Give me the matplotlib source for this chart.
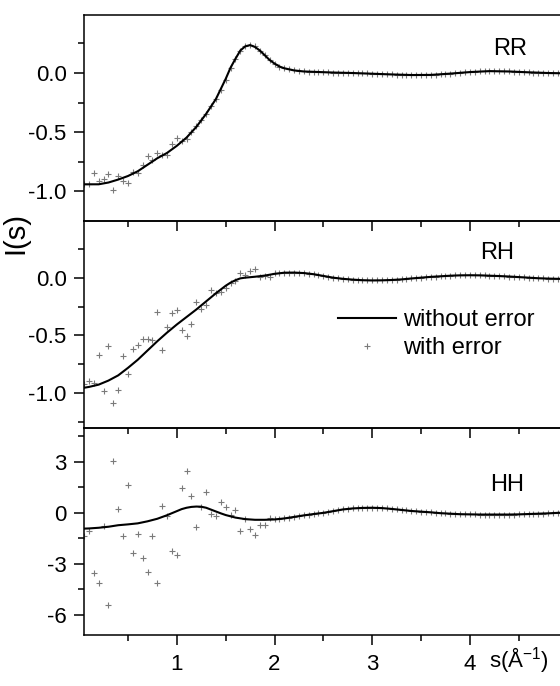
import matplotlib
matplotlib.use("Agg")
import matplotlib.pyplot as plt
import numpy as np

plt.rcParams['font.family'] = ['Liberation Sans', 'DejaVu Sans']
plt.rcParams['axes.unicode_minus'] = False
plt.rcParams['mathtext.fontset'] = 'custom'
plt.rcParams['mathtext.rm'] = 'Liberation Sans'
plt.rcParams['mathtext.it'] = 'Liberation Sans'

# ---- data ----
# grid of the "with error" points, s = 0.05 ... 5.00
s_err = np.round(np.arange(1, 101) * 0.05, 2)

rr_err = [-0.94, -0.94, -0.845, -0.91, -0.896, -0.857, -0.99, -0.873, -0.915, -0.93,
          -0.834, -0.845, -0.78, -0.70, -0.733, -0.677, -0.694, -0.69, -0.598, -0.545,
          -0.573, -0.559, -0.50, -0.445, -0.40, -0.35, -0.28, -0.22, -0.14, -0.06,
          0.04, 0.12, 0.19, 0.23, 0.24, 0.225, 0.19, 0.15, 0.11, 0.08,
          0.055, 0.04, 0.03, 0.022, 0.017, 0.013, 0.012, 0.01, 0.009, 0.008,
          0.006, 0.004, 0.003, 0.002, 0.001, 0.0, -0.001, -0.003, -0.004, -0.006,
          -0.007, -0.009, -0.011, -0.012, -0.014, -0.015, -0.016, -0.017, -0.017, -0.017,
          -0.017, -0.016, -0.014, -0.011, -0.008, -0.005, -0.002, 0.001, 0.005, 0.008,
          0.011, 0.013, 0.015, 0.016, 0.016, 0.015, 0.014, 0.013, 0.011, 0.009,
          0.008, 0.006, 0.004, 0.003, 0.001, 0.0, -0.001, -0.002, -0.003, -0.003]

rh_err = [-0.92, -0.894, -0.908, -0.672, -0.98, -0.591, -1.08, -0.974, -0.677, -0.836,
          -0.614, -0.585, -0.527, -0.527, -0.542, -0.297, -0.626, -0.424, -0.303, -0.283,
          -0.453, -0.505, -0.404, -0.21, -0.268, -0.24, -0.11, -0.136, -0.121, -0.087,
          -0.043, -0.029, 0.043, 0.023, 0.057, 0.072, 0.009, 0.014, 0.009, 0.037,
          0.043, 0.043, 0.044, 0.044, 0.042, 0.04, 0.035, 0.03, 0.023, 0.015,
          0.008, 0.0, -0.005, -0.01, -0.014, -0.017, -0.02, -0.022, -0.023, -0.024,
          -0.024, -0.023, -0.022, -0.02, -0.018, -0.015, -0.011, -0.007, -0.003, 0.0,
          0.004, 0.007, 0.01, 0.012, 0.015, 0.017, 0.019, 0.02, 0.021, 0.021,
          0.021, 0.02, 0.019, 0.017, 0.016, 0.014, 0.012, 0.01, 0.008, 0.005,
          0.002, 0.0, -0.003, -0.005, -0.007, -0.008, -0.009, -0.01, -0.01, -0.01]

hh_err = [-1.35, -1.09, -3.52, -4.12, -0.80, -5.44, 3.06, 0.24, -1.39, 1.62,
          -2.37, -1.23, -2.67, -3.47, -1.35, -4.16, 0.38, -0.16, -2.23, -2.50,
          1.44, 2.45, 1.00, -0.83, 0.37, 1.22, -0.08, -0.20, 0.61, 0.36,
          -0.15, 0.14, -1.09, -0.35, -0.93, -1.29, -0.69, -0.69, -0.30, -0.36,
          -0.37, -0.33, -0.29, -0.24, -0.20, -0.15, -0.11, -0.07, -0.03, 0.0,
          0.05, 0.10, 0.15, 0.20, 0.23, 0.26, 0.28, 0.29, 0.30, 0.30,
          0.29, 0.28, 0.26, 0.23, 0.20, 0.17, 0.14, 0.11, 0.09, 0.07,
          0.05, 0.03, 0.0, -0.02, -0.035, -0.05, -0.065, -0.08, -0.085, -0.09,
          -0.095, -0.10, -0.10, -0.10, -0.10, -0.10, -0.10, -0.10, -0.10, -0.09,
          -0.08, -0.07, -0.06, -0.05, -0.04, -0.03, -0.015, 0.0, 0.005, 0.01]

# "without error" curves
rr_s = [0.05, 0.10, 0.20, 0.30, 0.40, 0.50, 0.60, 0.70, 0.80, 0.90, 1.00, 1.10, 1.20, 1.30,
        1.40, 1.50, 1.55, 1.60, 1.65, 1.70, 1.75, 1.80, 1.85, 1.90, 1.95, 2.00, 2.05, 2.10,
        2.20, 2.30, 2.40, 2.60, 2.80, 3.00, 3.20, 3.40, 3.60, 3.80, 4.00, 4.20, 4.40, 4.60,
        4.80, 5.00]
rr_I = [-0.94, -0.94, -0.94, -0.925, -0.90, -0.87, -0.83, -0.775, -0.72, -0.675, -0.615,
        -0.545, -0.455, -0.345, -0.22, -0.05, 0.045, 0.12, 0.19, 0.225, 0.236, 0.22, 0.19,
        0.15, 0.11, 0.08, 0.055, 0.04, 0.022, 0.013, 0.01, 0.004, 0.0, -0.006, -0.012,
        -0.017, -0.016, -0.005, 0.008, 0.016, 0.013, 0.006, 0.0, -0.003]

rh_s = [0.05, 0.10, 0.20, 0.30, 0.40, 0.50, 0.60, 0.70, 0.80, 0.90, 1.00, 1.10, 1.20, 1.30,
        1.40, 1.50, 1.55, 1.60, 1.65, 1.70, 1.80, 1.90, 2.00, 2.10, 2.20, 2.30, 2.40, 2.50,
        2.60, 2.70, 2.80, 2.90, 3.00, 3.10, 3.20, 3.30, 3.40, 3.50, 3.60, 3.70, 3.80, 3.90,
        4.00, 4.10, 4.20, 4.30, 4.40, 4.50, 4.60, 4.70, 4.80, 4.90, 5.00]
rh_I = [-0.952, -0.945, -0.925, -0.89, -0.845, -0.78, -0.71, -0.63, -0.55, -0.475, -0.405,
        -0.34, -0.275, -0.205, -0.135, -0.07, -0.043, -0.022, -0.006, 0.0, 0.008, 0.018,
        0.033, 0.043, 0.044, 0.04, 0.03, 0.015, 0.0, -0.01, -0.017, -0.022, -0.024, -0.023,
        -0.02, -0.015, -0.007, 0.0, 0.007, 0.012, 0.017, 0.02, 0.021, 0.02, 0.017, 0.014,
        0.01, 0.005, 0.0, -0.005, -0.008, -0.01, -0.01]

hh_s = [0.05, 0.10, 0.20, 0.30, 0.40, 0.50, 0.60, 0.70, 0.80, 0.90, 1.00, 1.05, 1.10, 1.15,
        1.20, 1.25, 1.30, 1.35, 1.40, 1.45, 1.50, 1.60, 1.70, 1.80, 1.90, 2.00, 2.10, 2.20,
        2.30, 2.40, 2.50, 2.60, 2.70, 2.80, 2.90, 3.00, 3.10, 3.20, 3.30, 3.40, 3.50, 3.60,
        3.70, 3.80, 3.90, 4.00, 4.10, 4.20, 4.30, 4.40, 4.50, 4.60, 4.70, 4.80, 4.90, 5.00]
hh_I = [-0.93, -0.92, -0.88, -0.82, -0.73, -0.68, -0.62, -0.50, -0.35, -0.14, 0.10, 0.22,
        0.30, 0.35, 0.37, 0.36, 0.30, 0.19, 0.08, -0.03, -0.13, -0.28, -0.37, -0.41, -0.41,
        -0.39, -0.33, -0.24, -0.15, -0.07, 0.0, 0.10, 0.20, 0.26, 0.29, 0.30, 0.28, 0.23,
        0.17, 0.11, 0.07, 0.03, -0.02, -0.05, -0.08, -0.09, -0.10, -0.10, -0.10, -0.10,
        -0.09, -0.07, -0.05, -0.03, 0.0, 0.01]

panels = [
    ("RR", rr_s, rr_I, rr_err, (-1.25, 0.49), [-1.0, -0.5, 0.0], [-0.75, -0.25, 0.25], (4.41, 0.152)),
    ("RH", rh_s, rh_I, rh_err, (-1.3, 0.49), [-1.0, -0.5, 0.0], [-1.25, -0.75, -0.25, 0.25], (4.28, 0.158)),
    ("HH", hh_s, hh_I, hh_err, (-7.2, 5.0), [-6, -3, 0, 3], [-4.5, -1.5, 1.5, 4.5], (4.38, 1.26)),
]
ylabels = [["0.0" if v == 0 else "%.1f" % v for v in panels[0][5]],
           ["0.0" if v == 0 else "%.1f" % v for v in panels[1][5]],
           ["%d" % v for v in panels[2][5]]]

fig = plt.figure(figsize=(5.6, 6.86), dpi=100)
W, H = 560.0, 686.0
x0, x1 = 0.05, 5.0
left_px, unit_px = 84.0, 97.7
ax_w = (x1 - x0) * unit_px / W
tops = [15, 221, 428]
bots = [221, 428, 635]

axes = []
for i, (name, s_line, I_line, I_err, ylim, yt, ymt, tpos) in enumerate(panels):
    ax = fig.add_axes([left_px / W, 1 - bots[i] / H, ax_w, (bots[i] - tops[i]) / H])
    ax.set_facecolor('none')
    ax.plot(s_err, I_err, linestyle='none', marker='+', markersize=5, mew=0.8,
            color='#7a7a7a', label='with error', zorder=2)
    ax.plot(s_line, I_line, color='black', lw=1.5, label='without error', zorder=3)
    ax.set_xlim(x0, x1)
    ax.set_ylim(*ylim)
    ax.set_xticks([1, 2, 3, 4])
    ax.set_xticks([0.5, 1.5, 2.5, 3.5, 4.5], minor=True)
    ax.set_yticks(yt)
    ax.set_yticklabels(ylabels[i])
    ax.set_yticks(ymt, minor=True)
    ax.tick_params(which='both', direction='out', top=False, right=False, width=1.1,
                   labelsize=16, color='black')
    ax.tick_params(which='major', length=7.5)
    ax.tick_params(which='minor', length=4.2)
    ax.tick_params(axis='y', pad=5)
    ax.tick_params(axis='x', pad=6)
    for sp in ax.spines.values():
        sp.set_linewidth(1.1)
    if i < 2:
        ax.tick_params(axis='x', labelbottom=False)
    ax.text(tpos[0], tpos[1], name, fontsize=17, ha='center', va='baseline')
    axes.append(ax)

h, l = axes[1].get_legend_handles_labels()
axes[1].legend([h[1], h[0]], [l[1], l[0]], loc='upper left',
               bbox_to_anchor=(338 / W, 1 - 309 / H), bbox_transform=fig.transFigure,
               frameon=False, fontsize=17, handlelength=2.45, handletextpad=0.3,
               labelspacing=0.25, borderpad=0, borderaxespad=0, markerscale=0.8)

fig.text(15 / W, 1 - 233 / H, "I(s)", rotation=90, fontsize=21, ha='center', va='center')
fig.text(489 / W, 1 - 668 / H, "s(Å$^{\\mathrm{-1}}$)", fontsize=16, ha='left', va='baseline')

fig.savefig("out.png", dpi=100)
